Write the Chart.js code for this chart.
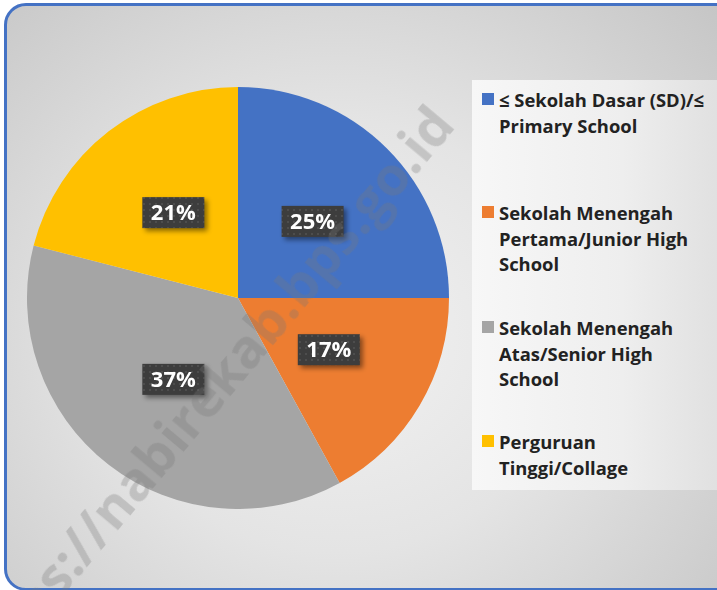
<!DOCTYPE html>
<html>
<head>
<meta charset="utf-8">
<script src="https://cdn.jsdelivr.net/npm/chart.js@4"></script>
<style>
  body { margin: 0; width: 717px; height: 590px; overflow: hidden; background: #fff; font-family: "Open Sans", sans-serif; }
  .frame {
    position: absolute; left: 4px; top: 3px; width: 730px; height: 582px;
    border: 3px solid #4472C4; border-radius: 22px;
    background: radial-gradient(ellipse 520px 480px at 330px 330px, #f2f2f2 0%, #e4e4e4 45%, #c6c6c6 100%);
    overflow: hidden;
  }
  .legendbox {
    position: absolute; left: 472px; top: 80px; width: 250px; height: 410px;
    background: linear-gradient(90deg, #f7f7f7 0%, #eeeeee 60%, #e0e0e0 100%);
  }
  #pie { position: absolute; left: 27px; top: 87px; }
  .item { position: absolute; left: 499px; font-weight: 700; font-size: 18.4px; line-height: 25.5px; color: #222; }
  .item i { position: absolute; left: -17px; top: 6px; width: 12px; height: 12px; }
  .wm {
    position: absolute; white-space: nowrap;
    font: 700 54px "Open Sans", sans-serif; color: rgba(120,120,120,0.3);
    transform: rotate(-50deg); transform-origin: 0 0;
    pointer-events: none;
  }
</style>
</head>
<body>
<div class="frame"></div>
<div class="legendbox"></div>
<canvas id="pie" width="422" height="422"></canvas>
<div id="legend"></div>
<div class="wm" style="left:-60px;top:652px;">https://nabirekab.bps.go.id</div>
<script>
const categories = [
  '≤ Sekolah Dasar (SD)/≤|Primary School',
  'Sekolah Menengah|Pertama/Junior High|School',
  'Sekolah Menengah|Atas/Senior High|School',
  'Perguruan|Tinggi/Collage'
]
const shares = [25, 17, 37, 21]
const colors = ['#4472C4', '#ED7D31', '#A5A5A5', '#FFC000']
const legendTops = [87, 200, 315, 429]

// legend
const legend = document.getElementById('legend')
for (let i = 0; i < categories.length; i++) {
  let item = document.createElement('div')
  item.className = 'item'
  item.style.top = legendTops[i] + 'px'
  item.innerHTML = '<i style="background:' + colors[i] + '"></i>' + categories[i].split('|').join('<br>')
  legend.appendChild(item)
}

// dark label boxes
function boxPattern(ctx) {
  let p = document.createElement('canvas')
  p.width = 6; p.height = 6
  let c = p.getContext('2d')
  c.fillStyle = '#3d3d3d'
  c.fillRect(0, 0, 6, 6)
  c.fillStyle = '#4d4d4d'
  c.fillRect(2, 2, 2, 2)
  return ctx.createPattern(p, 'repeat')
}

const labelBoxes = {
  id: 'labelBoxes',
  afterDatasetsDraw(chart) {
    const ctx = chart.ctx
    const meta = chart.getDatasetMeta(0)
    const pattern = boxPattern(ctx)
    meta.data.forEach((arc, i) => {
      const pt = arc.getCenterPoint()
      const w = 62, h = 31
      ctx.save()
      ctx.shadowColor = 'rgba(0,0,0,0.45)'
      ctx.shadowBlur = 5
      ctx.shadowOffsetX = 3
      ctx.shadowOffsetY = 3
      ctx.fillStyle = pattern
      ctx.fillRect(pt.x - w / 2, pt.y - h / 2 - 2, w, h)
      ctx.restore()
      ctx.save()
      ctx.fillStyle = '#fff'
      ctx.font = '700 22px "Open Sans"'
      ctx.textAlign = 'center'
      ctx.textBaseline = 'middle'
      ctx.fillText(shares[i] + '%', pt.x, pt.y - 1)
      ctx.restore()
    })
  }
}

new Chart(document.getElementById('pie'), {
  type: 'pie',
  data: {
    labels: categories.map(c => c.replace(/\|/g, ' ')),
    datasets: [{
      data: shares,
      backgroundColor: colors,
      borderWidth: 0
    }]
  },
  options: {
    responsive: false,
    animation: false,
    layout: { padding: 0 },
    plugins: {
      legend: { display: false },
      tooltip: { enabled: false }
    }
  },
  plugins: [labelBoxes]
})
</script>
</body>
</html>
